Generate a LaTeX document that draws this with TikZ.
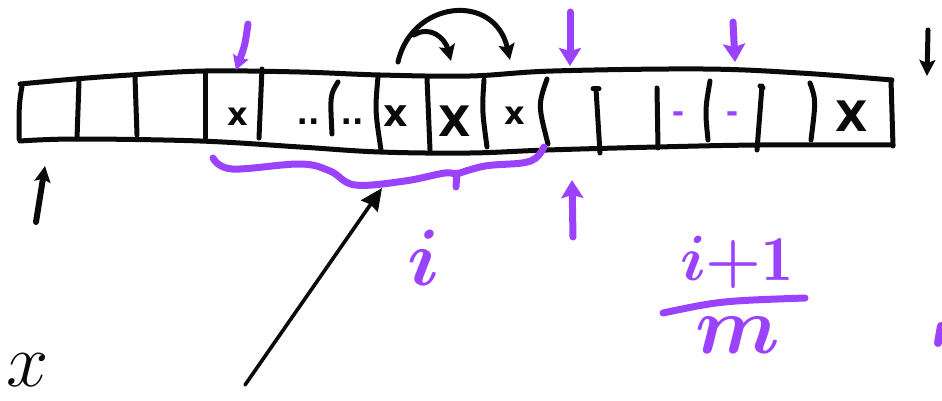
\RequirePackage{fix-cm}
\documentclass[tikz,border=0pt]{standalone}
\usepackage{bm}
\usepackage{fontspec}
\newfontfamily\markfont{DejaVu Sans}
\usetikzlibrary{arrows.meta}
\definecolor{ink}{RGB}{10,10,10}
\definecolor{violet}{RGB}{155,66,255}
\tikzset{
  pen/.style={draw=ink, line width=5pt, line cap=round, line join=round},
  thinpen/.style={draw=ink, line width=5pt, line cap=round, line join=round},
  marker/.style={draw=violet, line width=7pt, line cap=round, line join=round},
  blacktip/.style={-{Stealth[length=16pt,width=16pt,inset=3pt]}},
  viotip/.style={-{Stealth[length=18pt,width=22pt,inset=3pt]}},
  cross/.style={text=ink, inner sep=0pt},
  hand/.style={text=violet, inner sep=0pt},
}
\begin{document}
\begin{tikzpicture}[x=1pt,y=-1pt]
\useasboundingbox (0,0) rectangle (942,401);

% the array: wavy top and bottom edges
\draw[pen] plot[smooth,tension=0.6] coordinates {(20,84) (75,79) (130,75) (205,71) (300,72) (380,75) (470,76) (553,71) (703,69) (800,73) (892,80)};
\draw[pen] plot[smooth,tension=0.6] coordinates {(20,141) (77,139) (200,141) (300,147) (380,152) (470,153) (547,150) (657,147) (760,145) (893,145)};
\draw[pen] (22,86) .. controls (19,105) .. (19,139);
\draw[pen] (891,80) -- (893,146);

% cell dividers
\draw[pen] (79,81) -- (77,139);
\draw[pen] (135,77) -- (137,135);
\draw[pen] (205,72) -- (205,138);
\draw[pen] (262,69) -- (259,138);
\draw[pen] (338,82) .. controls (330,95) .. (332,134);
\draw[pen] (378,77) .. controls (375,110) .. (381,150);
\draw[pen] (427,78) -- (430,150);
\draw[pen] (484,80) .. controls (482,110) .. (487,147);
\draw[pen] (547,79) .. controls (538,105) .. (548,144);
\draw[pen] (593,89) -- (599,89);
\draw[pen] (596,89) -- (600,153);
\draw[pen] (657,88) -- (658,148);
\draw[pen] (710,81) .. controls (705,110) .. (708,140);
\draw[pen] (760,86) -- (763,88);
\draw[pen] (762,86) -- (757,150);
\draw[pen] (810,83) .. controls (816,100) .. (811,140);

% cell contents
\node[cross, font=\markfont\bfseries\fontsize{32}{32}\selectfont] (c1) at (238,117) {x};
\node[cross, font=\markfont\bfseries\fontsize{30}{30}\selectfont] (d1) at (308,122) {..};
\node[cross, font=\markfont\bfseries\fontsize{30}{30}\selectfont] (d2) at (352,122) {..};
\node[cross, font=\markfont\bfseries\fontsize{38}{38}\selectfont] (c2) at (396,116) {x};
\node[cross, font=\markfont\bfseries\fontsize{42}{42}\selectfont] (c3) at (455,121) {X};
\node[cross, font=\markfont\bfseries\fontsize{32}{32}\selectfont] (c4) at (515,116) {x};
\node[cross, font=\markfont\bfseries\fontsize{42}{42}\selectfont] (c5) at (852,116) {X};
\node[hand, font=\markfont\bfseries\fontsize{30}{30}\selectfont] (m1) at (678,117) {-};
\node[hand, font=\markfont\bfseries\fontsize{30}{30}\selectfont] (m2) at (732,117) {-};

% pointers above the array
\coordinate (pa0) at (248,24);
\coordinate (pa1) at (236,70);
\draw[marker, -{Stealth[length=14pt,width=16pt,inset=2pt]}] (pa0) .. controls (245,45) .. (pa1);
\coordinate (pb0) at (570,12);
\coordinate (pb1) at (570,66);
\draw[marker, viotip] (pb0) -- (pb1);
\coordinate (pc0) at (733,22);
\coordinate (pc1) at (735,62);
\draw[marker, viotip] (pc0) -- (pc1);
\coordinate (pd0) at (928,30);
\coordinate (pd1) at (927,76);
\draw[thinpen, blacktip] (pd0) -- (pd1);

% swap arrows over the cells
\coordinate (s0) at (398,62);
\coordinate (s1) at (510,60);
\draw[pen, blacktip] (s0) .. controls (412,0) and (495,-8) .. (s1);
\coordinate (t0) at (414,35);
\coordinate (t1) at (451,61);
\draw[pen, blacktip] (t0) .. controls (430,25) and (445,38) .. (t1);

% pointers below the array
\coordinate (lo0) at (36,222);
\coordinate (lo1) at (45,166);
\draw[thinpen, line width=6pt, blacktip] (lo0) -- (lo1);
\coordinate (pu0) at (573,237);
\coordinate (pu1) at (572,180);
\draw[marker, viotip] (pu0) -- (pu1);

% brace under the filled part
\draw[marker] plot[smooth,tension=0.6] coordinates {(213,158) (232,169) (300,164) (330,171) (355,185) (405,181) (445,173) (457,175)};
\draw[marker] (457,173) -- (456,187);
\draw[marker] plot[smooth,tension=0.6] coordinates {(457,174) (485,166) (522,163) (536,158) (544,147)};

% long pointer to the brace
\coordinate (q0) at (245,385);
\coordinate (q1) at (382,188);
\draw[draw=ink, line width=3.6pt, line cap=round, -{Stealth[length=22pt,width=20pt,inset=2pt]}] (q0) -- (q1);

% labels
\node[hand, font=\fontsize{80}{80}\selectfont] (li) at (424,258) {$\bm{i}$};
\node[hand, font=\fontsize{64}{64}\selectfont] (num) at (737,262) {$\bm{i}{\bm{+}}\mathbf{1}$};
\coordinate (bar0) at (663,313);
\coordinate (bar1) at (805,298);
\draw[marker] (bar0) .. controls (720,301) .. (bar1);
\node[hand, font=\fontsize{82}{82}\selectfont] (den) at (738,335) {$\bm{m}$};
\node[text=ink, inner sep=0pt, font=\fontsize{76}{76}\selectfont] (lx) at (28,370) {$x$};

% mark at the right margin
\draw[marker, line width=8pt] (941,326) -- (938,343);
\end{tikzpicture}
\end{document}
